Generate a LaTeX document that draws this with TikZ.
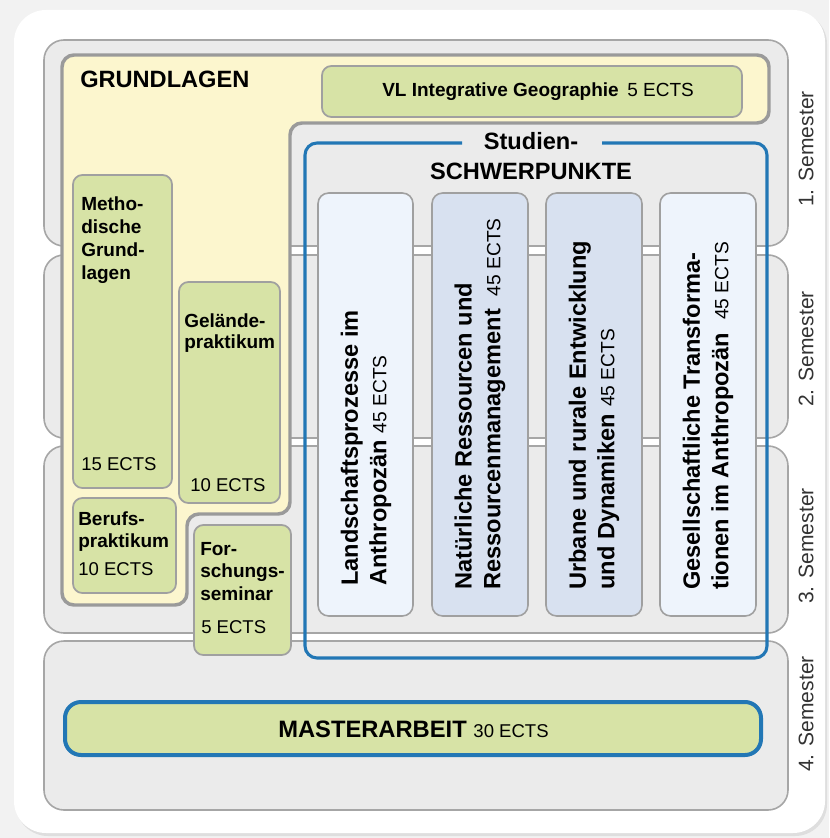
\documentclass[tikz,border=0pt]{standalone}
\usepackage{fontspec}
\setmainfont{Liberation Sans}
\definecolor{pagebg}{HTML}{F2F2F2}
\definecolor{cardshadow}{HTML}{DEDEDE}
\definecolor{bandfill}{HTML}{EBEBEB}
\definecolor{bandline}{HTML}{A6A6A6}
\definecolor{yelfill}{HTML}{FCF6CE}
\definecolor{yelline}{HTML}{9A9A9A}
\definecolor{grnfill}{HTML}{D7E3A6}
\definecolor{grnline}{HTML}{A0A0A0}
\definecolor{colA}{HTML}{EEF4FC}
\definecolor{colB}{HTML}{D8E1F0}
\definecolor{bluline}{HTML}{2277B5}
\definecolor{semtext}{HTML}{333333}
\newcommand{\ectsfont}[1]{{\fontsize{14.4}{17}\selectfont\mdseries #1}}
\begin{document}
\begin{tikzpicture}[x=0.75pt,y=-0.75pt,
  band/.style={fill=bandfill,draw=bandline,line width=1.2pt,rounded corners=15pt},
  yelregion/.style={fill=yelfill,draw=yelline,line width=2.6pt,rounded corners=9pt},
  grnbox/.style={fill=grnfill,draw=grnline,line width=1.3pt,rounded corners=7pt},
  colbox/.style={draw=grnline,line width=1.2pt,rounded corners=8pt},
  bluframe/.style={draw=bluline,line width=2.3pt,rounded corners=9pt},
  masterbox/.style={fill=grnfill,draw=bluline,line width=3pt,rounded corners=12pt},
  boxtxt/.style={anchor=base west,inner sep=0pt,font=\fontsize{14.25}{17}\selectfont\bfseries},
  ectstxt/.style={anchor=base west,inner sep=0pt,font=\fontsize{13.9}{17}\selectfont},
  bigtxt/.style={inner sep=0pt,font=\fontsize{17.7}{21}\selectfont\bfseries},
  coltxt/.style={anchor=west,rotate=90,inner sep=0pt,align=left,font=\fontsize{17.7}{21.5}\selectfont\bfseries},
  semtxt/.style={rotate=90,inner sep=0pt,text=semtext,font=\fontsize{15.8}{18}\selectfont}]
\useasboundingbox (0,0) rectangle (829,838);
% page and card
\fill[pagebg] (0,0) rectangle (829,838);
\fill[cardshadow,rounded corners=24pt] (16,12) rectangle (827,836);
\fill[white,rounded corners=24pt] (14,10) rectangle (825,833);
% semester bands
\draw[band] (44,40) rectangle (788,246);
\draw[band] (44,255) rectangle (788,438);
\draw[band] (44,446) rectangle (788,633);
\draw[band] (44,641) rectangle (788,810);
% Grundlagen region
\draw[yelregion] (62,55) -- (769,55) -- (769,123) -- (290,123) -- (290,514)
  -- (187,514) -- (187,605) -- (62,605) -- cycle;
\node[bigtxt,anchor=base west] (grund) at (80,88) {GRUNDLAGEN};
% VL box
\draw[grnbox] (322,66) rectangle (742,117);
\node[anchor=base west,inner sep=0pt,font=\fontsize{14.25}{17}\selectfont] (vl) at (382,97)
  {\bfseries VL Integrative Geographie\hspace{0.45em}\mdseries 5 ECTS};
% Methodische Grundlagen
\draw[grnbox] (73,175) rectangle (172,488);
\node[boxtxt] (m1) at (81,210) {Metho-};
\node[boxtxt] (m2) at (81,233) {dische};
\node[boxtxt] (m3) at (81,256) {Grund-};
\node[boxtxt] (m4) at (81,279) {lagen};
\node[ectstxt] (m5) at (81,470) {15 ECTS};
% Gelaendepraktikum
\draw[grnbox] (179,282) rectangle (280,503);
\node[boxtxt] (g1) at (184,327) {Gelände-};
\node[boxtxt] (g2) at (184,348) {praktikum};
\node[ectstxt] (g3) at (190,491) {10 ECTS};
% Berufspraktikum
\draw[grnbox] (73,498) rectangle (176,593);
\node[boxtxt] (b1) at (78,525) {Berufs-};
\node[boxtxt] (b2) at (78,547) {praktikum};
\node[ectstxt] (b3) at (78,575) {10 ECTS};
% Forschungsseminar
\draw[grnbox] (194,525) rectangle (291,655);
\node[boxtxt] (f1) at (200,555) {For-};
\node[boxtxt] (f2) at (200,577) {schungs-};
\node[boxtxt] (f3) at (200,600) {seminar};
\node[ectstxt] (f4) at (201,633) {5 ECTS};
% Studienschwerpunkte frame
\draw[bluframe] (462,143) -- (305,143) -- (305,658) -- (767,658) -- (767,143) -- (602,143);
\node[bigtxt,anchor=base] (st1) at (531,150) {Studien-};
\node[bigtxt,anchor=base] (st2) at (531,180) {SCHWERPUNKTE};
% columns
\draw[colbox,fill=colA] (318,193) rectangle (413,616);
\draw[colbox,fill=colB] (432,193) rectangle (528,616);
\draw[colbox,fill=colB] (546,193) rectangle (642,616);
\draw[colbox,fill=colA] (660,193) rectangle (756,616);
\node[coltxt] (c1) at (366,586) {Landschaftsprozesse im\\Anthropozän\hspace{0.3em}\ectsfont{45 ECTS}};
\node[coltxt] (c2) at (480,590) {Natürliche Ressourcen und\\Ressourcenmanagement\hspace{0.55em}\ectsfont{45 ECTS}};
\node[coltxt] (c3) at (594,590) {Urbane und rurale Entwicklung\\und Dynamiken\hspace{0.3em}\ectsfont{45 ECTS}};
\node[coltxt] (c4) at (708,590) {Gesellschaftliche Transforma-\\tionen im Anthropozän\hspace{0.55em}\ectsfont{45 ECTS}};
% Masterarbeit
\draw[masterbox] (65,702) rectangle (761,755);
\node[anchor=base west,inner sep=0pt] (ma) at (278,737)
  {{\fontsize{17.8}{20}\selectfont\bfseries MASTERARBEIT}\hspace{5pt}{\fontsize{13.9}{17}\selectfont 30 ECTS}};
% semester labels
\node[semtxt] (s1) at (806,149) {1. Semester};
\node[semtxt] (s2) at (806,349) {2. Semester};
\node[semtxt] (s3) at (806,546) {3. Semester};
\node[semtxt] (s4) at (806,714) {4. Semester};
\end{tikzpicture}
\end{document}
